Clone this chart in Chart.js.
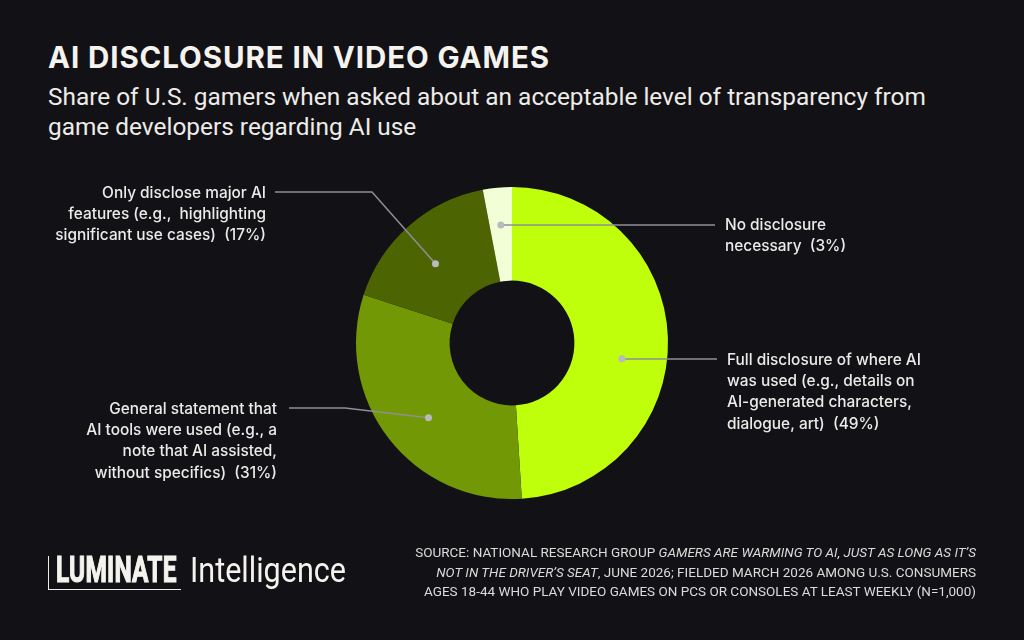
<!DOCTYPE html>
<html lang="en">
<head>
<meta charset="UTF-8">
<title>AI Disclosure in Video Games</title>
<script src="https://cdn.jsdelivr.net/npm/chart.js@4.4.1/dist/chart.umd.min.js"></script>
<style>
    html, body { margin: 0; padding: 0; }
    body {
        width: 1024px; height: 640px; overflow: hidden; position: relative;
        background: #121116; color: #f3f1ec; font-family: Roboto, "Noto Sans", sans-serif;
    }
    #chart { position: absolute; left: 0; top: 0; }
    #title {
        position: absolute; left: 48px; top: 43px; margin: 0; white-space: nowrap;
        font: 700 29.5px/29px Inter, sans-serif; letter-spacing: 0.9px; color: #f5f3ee;
    }
    #subtitle {
        position: absolute; left: 48px; top: 82px; margin: 0; white-space: nowrap;
        font: 400 24.4px/30px Roboto, sans-serif; color: #eeece8;
    }
    #source {
        position: absolute; right: 48px; top: 543px; margin: 0; text-align: right; white-space: nowrap;
        font: 400 13.5px/19.5px Roboto, sans-serif; color: #dcdbd8;
    }
    #logo { position: absolute; left: 48px; top: 548px; width: 310px; height: 50px; }
    #logo .bracket {
        position: absolute; left: 0; top: 8px; width: 132px; height: 33px;
        border-left: 1.5px solid #f0eee8; border-bottom: 1.5px solid #f0eee8;
    }
    #logo .lum {
        position: absolute; left: 8px; top: 0px; font: 700 36px/44px Roboto, sans-serif;
        transform: scaleX(0.68); transform-origin: left top; letter-spacing: 0.3px; color: #f5f3ee;
        -webkit-text-stroke: 1.2px #f5f3ee;
    }
    #logo .intel {
        position: absolute; left: 142px; top: 2px; font: 400 34.5px/40px Roboto, sans-serif;
        transform: scaleX(0.885); transform-origin: left top; color: #f5f3ee;
    }
</style>
</head>
<body>
    <h1 id="title">AI DISCLOSURE IN VIDEO GAMES</h1>
    <p id="subtitle">Share of U.S. gamers when asked about an acceptable level of transparency from<br>game developers regarding AI use</p>

    <canvas id="chart" width="1024" height="640"></canvas>

    <div id="logo">
        <div class="bracket"></div>
        <div class="lum">LUMINATE</div>
        <div class="intel">Intelligence</div>
    </div>

    <p id="source">SOURCE: NATIONAL RESEARCH GROUP <i>GAMERS ARE WARMING TO AI, JUST AS LONG AS IT’S</i><br><i>NOT IN THE DRIVER’S SEAT</i>, JUNE 2026; FIELDED MARCH 2026 AMONG U.S. CONSUMERS<br>AGES 18-44 WHO PLAY VIDEO GAMES ON PCS OR CONSOLES AT LEAST WEEKLY (N=1,000)</p>

<script>
    // data, clockwise from 12 o'clock
    const categories = [
        "Full disclosure of where AI was used (e.g., details on AI-generated characters, dialogue, art)",
        "General statement that AI tools were used (e.g., a note that AI assisted, without specifics)",
        "Only disclose major AI features (e.g., highlighting significant use cases)",
        "No disclosure necessary",
    ];
    const shares = [49, 31, 17, 3];
    const labelLines = [
        ["Full disclosure of where AI", "was used (e.g., details on", "AI-generated characters,", "dialogue, art)  (49%)"],
        ["General statement that", "AI tools were used (e.g., a", "note that AI assisted,", "without specifics)  (31%)"],
        ["Only disclose major AI", "features (e.g.,  highlighting", "significant use cases)  (17%)"],
        ["No disclosure", "necessary  (3%)"],
    ];
    const sliceColors = ["#bfff0c", "#729805", "#4c6402", "#f2ffd6"];

    // where each callout sits (text anchor, leader end/elbow, dot nudge inside the slice)
    const callouts = [
        { align: "left",  x: 727, y: 360, lineY: 359, endX: 717, elbowX: null, nudge: 10,   frac: 0.52 },
        { align: "right", x: 277, y: 409, lineY: 408, endX: 289, elbowX: 345,  nudge: -4,   frac: 0.53 },
        { align: "right", x: 266, y: 193, lineY: 192, endX: 275, elbowX: 372,  nudge: -2.6, frac: 0.51 },
        { align: "left",  x: 725, y: 225, lineY: 225, endX: 715, elbowX: null, nudge: 0,    frac: 0.6 },
    ];
    const lineGap = 21.3;

    const calloutPlugin = {
        id: "callouts",
        afterDraw(chart) {
            const ctx = chart.ctx;
            const arcs = chart.getDatasetMeta(0).data;
            ctx.save();
            arcs.forEach((arc, i) => {
                const c = callouts[i];
                const p = arc.getProps(["x", "y", "startAngle", "endAngle", "innerRadius", "outerRadius"], true);
                const a = (p.startAngle + p.endAngle) / 2 + c.nudge * Math.PI / 180;
                const r = p.innerRadius + (p.outerRadius - p.innerRadius) * c.frac;
                const dx = p.x + Math.cos(a) * r;
                const dy = p.y + Math.sin(a) * r;

                ctx.strokeStyle = "#8f8f95";
                ctx.lineWidth = 1.5;
                ctx.beginPath();
                ctx.moveTo(dx, dy);
                if (c.elbowX !== null) ctx.lineTo(c.elbowX, c.lineY);
                else ctx.lineTo(dx, c.lineY);
                ctx.lineTo(c.endX, c.lineY);
                ctx.stroke();

                ctx.fillStyle = "#b9b9c0";
                ctx.beginPath();
                ctx.arc(dx, dy, 3.5, 0, Math.PI * 2);
                ctx.fill();

                ctx.fillStyle = "#ecebe8";
                ctx.font = "500 15.4px Inter, sans-serif";
                ctx.textAlign = c.align;
                ctx.textBaseline = "middle";
                labelLines[i].forEach((t, k) => ctx.fillText(t, c.x, c.y + k * lineGap));
            });
            ctx.restore();
        }
    };

    new Chart(document.getElementById("chart"), {
        type: "doughnut",
        data: {
            labels: categories,
            datasets: [{
                data: shares,
                backgroundColor: sliceColors,
                borderWidth: 0,
                hoverOffset: 0,
            }]
        },
        options: {
            responsive: false,
            animation: false,
            events: [],
            cutout: "40%",
            rotation: 0,
            layout: { padding: { left: 356, right: 356, top: 187, bottom: 141 } },
            plugins: {
                legend: { display: false },
                tooltip: { enabled: false },
            },
        },
        plugins: [calloutPlugin],
    });
</script>
</body>
</html>
